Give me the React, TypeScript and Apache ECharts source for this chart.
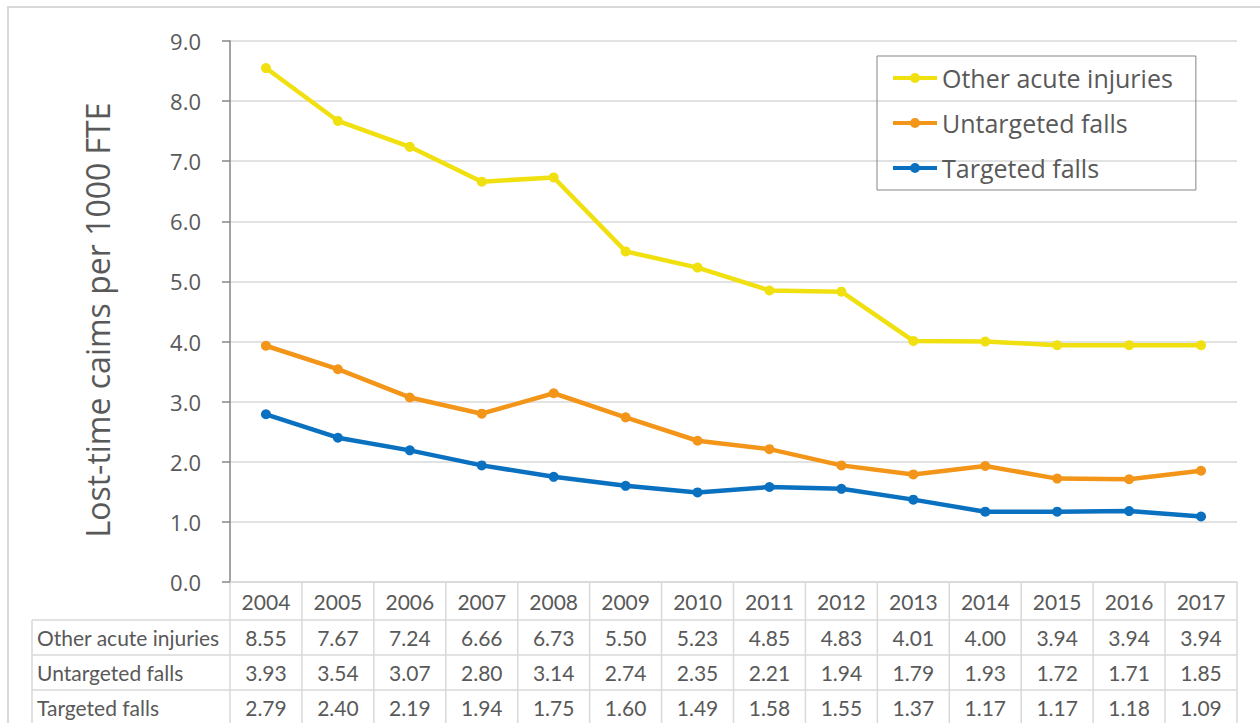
import React, { useEffect, useRef } from "react";
import * as echarts from "echarts";

const years = ["2004", "2005", "2006", "2007", "2008", "2009", "2010", "2011", "2012", "2013", "2014", "2015", "2016", "2017"];
const otherAcute = [8.55, 7.67, 7.24, 6.66, 6.73, 5.5, 5.23, 4.85, 4.83, 4.01, 4.0, 3.94, 3.94, 3.94];
const untargeted = [3.93, 3.54, 3.07, 2.8, 3.14, 2.74, 2.35, 2.21, 1.94, 1.79, 1.93, 1.72, 1.71, 1.85];
const targeted = [2.79, 2.4, 2.19, 1.94, 1.75, 1.6, 1.49, 1.58, 1.55, 1.37, 1.17, 1.17, 1.18, 1.09];
const seriesNames = ["Other acute injuries", "Untargeted falls", "Targeted falls"];
const seriesColors = ["#F0E010", "#F39518", "#0A70C0"];
const yAxisTitle = "Lost-time caims per 1000 FTE";

const TEXT = "#595959";
const GRID = "#D9D9D9";
const TABLE_FONT = "Lato";
const AXIS_FONT = "Open Sans";
const LEGEND_ICON = "path://M0,3 L44,3 L44,7 L0,7 Z M17,5 A5,5 0 1,1 27,5 A5,5 0 1,1 17,5 Z";

export default function App() {
  const ref = useRef<HTMLDivElement>(null);
  useEffect(() => {
    const chart = echarts.init(ref.current!, null, { renderer: "svg" });
    const values = [otherAcute, untargeted, targeted];
    chart.setOption({
      animation: false,
      backgroundColor: "#ffffff",
      grid: { left: 230, right: 23, top: 41, bottom: 141, containLabel: false },
      legend: {
        orient: "vertical",
        left: 877,
        top: 56,
        padding: [7, 23, 7, 16],
        itemWidth: 44,
        itemHeight: 10,
        itemGap: 15,
        borderColor: "#858585",
        borderWidth: 1,
        icon: LEGEND_ICON,
        data: seriesNames,
        textStyle: { fontSize: 25, color: TEXT, fontFamily: AXIS_FONT, lineHeight: 30 },
      },
      xAxis: {
        type: "category",
        data: years,
        boundaryGap: true,
        axisLine: { show: true, lineStyle: { color: GRID, width: 1.5 } },
        axisTick: { show: false },
        axisLabel: { show: false },
        splitLine: { show: false },
      },
      yAxis: {
        type: "value",
        min: 0,
        max: 9,
        interval: 1,
        axisLine: { show: true, lineStyle: { color: "#868686", width: 1.5 } },
        axisTick: { show: true, length: 8, lineStyle: { color: "#868686", width: 1.5 } },
        axisLabel: {
          margin: 29,
          fontSize: 22,
          color: TEXT,
          fontFamily: AXIS_FONT,
          formatter: (v: number) => v.toFixed(1),
        },
        splitLine: { show: true, lineStyle: { color: GRID, width: 1.5 } },
      },
      series: values.map((d, i) => ({
        name: seriesNames[i],
        type: "line",
        data: d,
        symbol: "circle",
        symbolSize: 10,
        color: seriesColors[i],
        lineStyle: { width: 4.5, color: seriesColors[i] },
        itemStyle: { color: seriesColors[i] },
      })),
    });

    const cx = years.map((_, i) => chart.convertToPixel({ xAxisIndex: 0 }, i) as number);
    const half = (cx[1] - cx[0]) / 2;
    const yBase = chart.convertToPixel({ yAxisIndex: 0 }, 0) as number;
    const leftX = cx[0] - half;
    const rightX = cx[cx.length - 1] + half;
    const labelLeft = 32;
    const rowEdges = [yBase, yBase + 38, yBase + 73, yBase + 108, yBase + 143];
    const g: any[] = [];
    const line = (x1: number, y1: number, x2: number, y2: number) =>
      g.push({ type: "line", silent: true, shape: { x1, y1, x2, y2 }, style: { stroke: GRID, lineWidth: 1.5 } });
    for (let r = 1; r < rowEdges.length; r++) line(labelLeft, rowEdges[r], rightX, rowEdges[r]);
    for (let k = 0; k <= years.length; k++) {
      const x = leftX + k * 2 * half;
      line(x, yBase, x, rowEdges[4]);
    }
    line(labelLeft, rowEdges[1], labelLeft, rowEdges[4]);
    const txt = (x: number, y: number, text: string, align: string) =>
      g.push({
        type: "text",
        silent: true,
        x,
        y,
        style: { text, align, verticalAlign: "middle", fontSize: 21, fill: TEXT, fontFamily: TABLE_FONT },
      });
    years.forEach((yr, i) => txt(cx[i], (rowEdges[0] + rowEdges[1]) / 2, yr, "center"));
    values.forEach((d, r) => {
      const yc = (rowEdges[r + 1] + rowEdges[r + 2]) / 2;
      txt(labelLeft + 5, yc, seriesNames[r], "left");
      d.forEach((v, i) => txt(cx[i], yc, v.toFixed(2), "center"));
    });
    g.push({
      type: "text",
      silent: true,
      x: 97,
      y: 320,
      rotation: Math.PI / 2,
      style: { text: yAxisTitle, align: "center", verticalAlign: "middle", fontSize: 32, fill: TEXT, fontFamily: AXIS_FONT },
    });
    g.push({
      type: "rect",
      silent: true,
      shape: { x: 8, y: 7, width: 1300, height: 800 },
      style: { fill: "none", stroke: GRID, lineWidth: 2 },
    });
    chart.setOption({ graphic: g });
    return () => chart.dispose();
  }, []);
  return <div ref={ref} style={{ position: "fixed", left: 0, top: 0, width: 1260, height: 723 }} />;
}
